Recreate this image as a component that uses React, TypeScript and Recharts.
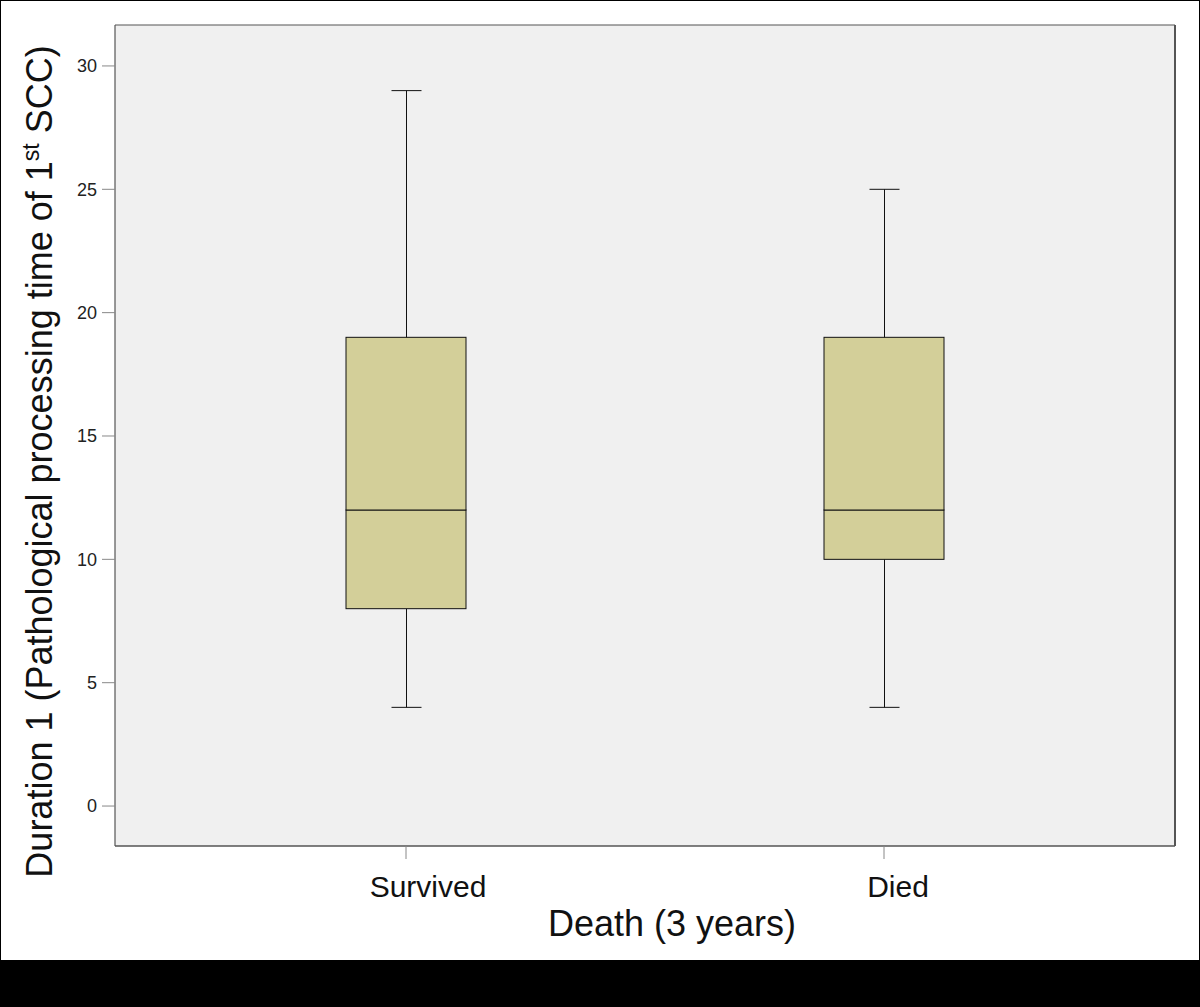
import React from "react";
import {
  ComposedChart,
  Bar,
  Line,
  XAxis,
  YAxis,
  CartesianGrid,
  Label,
} from "recharts";

const categories = ["Survived", "Died"];
const mins = [4, 4];
const q1s = [8, 10];
const medians = [12, 12];
const q3s = [19, 19];
const maxs = [29, 25];
const yTicks = [0, 5, 10, 15, 20, 25, 30];
const yDomain: [number, number] = [-1.62, 31.66];

const data = categories.map((name, i) => ({
  name,
  base: mins[i],
  lowWhisker: q1s[i] - mins[i],
  lowBox: medians[i] - q1s[i],
  highBox: q3s[i] - medians[i],
  highWhisker: maxs[i] - q3s[i],
}));

const FONT = "'Liberation Sans', Arial, sans-serif";
const BOX_FILL = "#D3CF99";
const LINE = "#111";
const BORDER = "#555";
const CAP = 30;

const Empty = () => null;

const LowWhisker = (p: any) => {
  const cx = Math.round(p.x + p.width / 2) + 0.5;
  return (
    <g>
      <line x1={cx} x2={cx} y1={p.y} y2={p.y + p.height} stroke={LINE} strokeWidth={1} />
      <line x1={cx - CAP / 2} x2={cx + CAP / 2} y1={p.y + p.height} y2={p.y + p.height} stroke={LINE} strokeWidth={1} />
    </g>
  );
};

const HighWhisker = (p: any) => {
  const cx = Math.round(p.x + p.width / 2) + 0.5;
  return (
    <g>
      <line x1={cx} x2={cx} y1={p.y} y2={p.y + p.height} stroke={LINE} strokeWidth={1} />
      <line x1={cx - CAP / 2} x2={cx + CAP / 2} y1={p.y} y2={p.y} stroke={LINE} strokeWidth={1} />
    </g>
  );
};

const BoxPart = (p: any) => (
  <rect x={p.x} y={p.y} width={p.width} height={p.height} fill={BOX_FILL} stroke={LINE} strokeWidth={1} />
);

const tickOffsets = [22, 14];

const XTick = (p: any) => (
  <text
    x={p.x + (tickOffsets[p.index] || 0)}
    y={p.y + 36}
    textAnchor="middle"
    fontFamily={FONT}
    fontSize={30}
    fill="#111"
  >
    {p.payload.value}
  </text>
);

const YLabel = (p: any) => {
  const vb = p.viewBox;
  const cx = 51;
  const cy = vb.y + vb.height / 2 + 26;
  return (
    <text
      x={cx}
      y={cy}
      transform={`rotate(-90, ${cx}, ${cy})`}
      textAnchor="middle"
      fontFamily={FONT}
      fontSize={36}
      fill="#111"
    >
      <tspan>Duration 1 (Pathological processing time of 1</tspan>
      <tspan dy={-13} fontSize={23}>st</tspan>
      <tspan dy={13}> SCC)</tspan>
    </text>
  );
};

const XLabel = (p: any) => {
  const vb = p.viewBox;
  return (
    <text
      x={vb.x + vb.width / 2 + 27}
      y={935}
      textAnchor="middle"
      fontFamily={FONT}
      fontSize={36}
      fill="#111"
    >
      Death (3 years)
    </text>
  );
};

export default function App() {
  return (
    <div style={{ position: "absolute", left: 0, top: 0, width: 1200, height: 1007, background: "#000" }}>
      <div style={{ position: "absolute", left: 1, top: 1, width: 1198, height: 959, background: "#fff" }}>
        <ComposedChart
          width={1198}
          height={959}
          data={data}
          margin={{ top: 23, right: 23, left: 0, bottom: 0 }}
          barSize={120}
        >
          <CartesianGrid horizontal={false} vertical={false} fill="#F0F0F0" />
          <XAxis
            dataKey="name"
            height={114}
            padding={{ left: 52, right: 52 }}
            axisLine={{ stroke: BORDER, strokeWidth: 1.5 }}
            tickLine={{ stroke: "#888" }}
            tickSize={13}
            tick={<XTick />}
            interval={0}
          >
            <Label content={<XLabel />} />
          </XAxis>
          <XAxis
            xAxisId="top"
            orientation="top"
            dataKey="name"
            height={1}
            padding={{ left: 52, right: 52 }}
            axisLine={{ stroke: BORDER, strokeWidth: 1.2 }}
            tickLine={false}
            tick={false}
          />
          <YAxis
            width={114}
            domain={yDomain}
            ticks={yTicks}
            allowDataOverflow
            axisLine={{ stroke: BORDER, strokeWidth: 1.2 }}
            tickLine={{ stroke: "#888" }}
            tickSize={13}
            tickMargin={5}
            tick={{ fontFamily: FONT, fontSize: 18, fill: "#222" }}
          >
            <Label content={<YLabel />} />
          </YAxis>
          <YAxis
            yAxisId="right"
            orientation="right"
            width={1}
            domain={yDomain}
            allowDataOverflow
            axisLine={{ stroke: BORDER, strokeWidth: 2 }}
            tickLine={false}
            tick={false}
          />
          <Bar dataKey="base" stackId="b" shape={<Empty />} isAnimationActive={false} />
          <Bar dataKey="lowWhisker" stackId="b" shape={<LowWhisker />} isAnimationActive={false} />
          <Bar dataKey="lowBox" stackId="b" shape={<BoxPart />} isAnimationActive={false} />
          <Bar dataKey="highBox" stackId="b" shape={<BoxPart />} isAnimationActive={false} />
          <Bar dataKey="highWhisker" stackId="b" shape={<HighWhisker />} isAnimationActive={false} />
          <Line
            dataKey="base"
            xAxisId="top"
            yAxisId="right"
            stroke="none"
            dot={false}
            activeDot={false}
            legendType="none"
            isAnimationActive={false}
          />
        </ComposedChart>
      </div>
    </div>
  );
}
